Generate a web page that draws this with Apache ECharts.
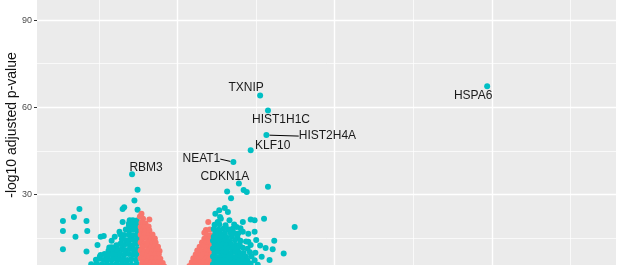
<!DOCTYPE html>
<html><head><meta charset="utf-8">
<script src="https://cdn.jsdelivr.net/npm/echarts@6/dist/echarts.min.js"></script>
<style>
html,body{margin:0;padding:0;background:#fff;overflow:hidden;width:624px;height:265px}
#c{position:absolute;left:0;top:-9px;width:624px;height:295px}
</style>
</head><body><div id="c"></div>
<script>
// log2 fold change vs -log10 adjusted p-value
const yAxisTitle = '-log10 adjusted p-value';
const yMajorStep = 30, yMinorStep = 15;

// labelled genes
const geneNames = ['TXNIP','HIST1H1C','KLF10','CDKN1A','RBM3','HSPA6','HIST2H4A','NEAT1'];
const geneFC    = [1.05, 1.15, 0.93, 0.78, -0.58, 3.94, 1.13, 0.71];
const genePval  = [64.0, 58.9, 45.2, 33.7, 36.9, 67.2, 50.4, 41.1];
const geneHasLine = [false,false,false,false,false,false,true,true];

// significant (teal), negative fold change
const sigDown = [
 [-1.25,25.0],[-1.46,20.8],[-1.32,22.2],[-1.16,20.8],[-1.46,17.4],[-1.15,17.4],[-1.30,15.4],[-0.98,15.4],
 [-0.94,15.7],[-0.84,14.0],[-1.02,12.6],[-1.46,11.1],[-1.16,10.3],[-0.88,10.6],[-0.99,8.6],[-0.87,11.7],
 [-0.82,9.6],[-0.91,8.9],[-0.51,31.6],[-0.55,27.9],[-0.68,25.6],[-0.70,25.0],[-0.51,24.7],[-0.57,21.1],
 [-0.61,21.1],[-0.70,20.5],[-0.74,17.1],[-0.80,15.4],[-0.72,13.0],[-0.84,11.8],[-0.78,9.8],
 [-0.62,20.0],[-0.57,19.8],[-0.52,21.0],[-0.50,19.0],
 [-0.62,19.3],[-0.56,18.6],[-0.53,19.6],
 [-0.66,17.9],[-0.61,17.6],[-0.56,17.9],[-0.51,17.5],
 [-0.73,16.3],[-0.68,16.0],[-0.62,16.2],[-0.57,15.9],[-0.52,16.1],
 [-0.71,14.6],[-0.66,14.2],[-0.61,14.5],[-0.56,14.3],[-0.51,14.6],
 [-0.78,12.5],[-0.73,12.9],[-0.68,12.6],[-0.62,12.8],[-0.57,12.5],[-0.52,12.9],
 [-0.82,11.2],[-0.76,10.9],[-0.71,11.1],[-0.66,10.8],[-0.61,11.2],[-0.56,10.9],[-0.51,11.1],
 [-0.98,9.1],[-0.93,9.5],[-0.88,9.2],[-0.83,9.4],[-0.78,9.1],[-0.73,9.4],[-0.68,9.2],[-0.62,9.5],[-0.57,9.2],[-0.52,9.4],
 [-1.04,7.5],[-0.99,7.8],[-0.94,7.4],[-0.89,7.7],[-0.84,7.5],[-0.79,7.8],[-0.74,7.5],[-0.69,7.7],[-0.64,7.4],[-0.59,7.7],[-0.53,7.5],
 [-1.10,5.9],[-1.03,6.1],[-0.97,5.8],[-0.90,6.0],[-0.84,5.8],[-0.78,6.1],[-0.71,5.9],[-0.65,6.0],[-0.59,5.8],[-0.52,6.0]
];

// not significant (salmon), negative fold change
const nsDown = [
 [-0.46,23.3],[-0.44,21.6],[-0.36,21.3],[-0.48,22.4],
 [-0.46,20.2],[-0.41,20.0],
 [-0.47,18.8],[-0.42,18.6],[-0.37,18.9],
 [-0.46,17.5],[-0.41,17.3],[-0.36,17.6],
 [-0.47,16.1],[-0.42,16.3],[-0.37,16.0],[-0.32,16.2],
 [-0.45,14.7],[-0.39,14.9],[-0.34,14.6],[-0.29,14.8],
 [-0.47,13.4],[-0.42,13.2],[-0.37,13.5],[-0.32,13.3],[-0.28,13.4],
 [-0.45,12.0],[-0.39,12.2],[-0.34,11.9],[-0.29,12.1],[-0.25,12.0],
 [-0.47,10.7],[-0.42,10.5],[-0.37,10.8],[-0.32,10.6],[-0.27,10.7],[-0.23,10.5],
 [-0.45,9.3],[-0.39,9.1],[-0.34,9.4],[-0.29,9.2],[-0.24,9.3],
 [-0.47,8.0],[-0.42,7.8],[-0.37,8.1],[-0.32,7.9],[-0.27,8.0],[-0.22,7.8],
 [-0.45,6.6],[-0.39,6.8],[-0.34,6.5],[-0.29,6.7],[-0.24,6.6],[-0.19,6.4],
 [-0.46,5.3],[-0.41,5.1],[-0.36,5.4],[-0.31,5.2],[-0.26,5.3],[-0.21,5.1],[-0.17,5.2]
];

// not significant (salmon), positive fold change
const nsUp = [
 [0.39,20.5],[0.36,17.7],[0.41,17.9],[0.34,16.8],
 [0.37,16.1],[0.42,15.9],
 [0.34,14.7],[0.39,14.5],
 [0.31,13.4],[0.36,13.2],[0.41,13.5],
 [0.28,12.0],[0.33,12.2],[0.38,11.9],[0.43,12.1],
 [0.25,10.7],[0.31,10.5],[0.36,10.8],[0.41,10.6],
 [0.23,9.3],[0.28,9.1],[0.33,9.4],[0.38,9.2],[0.43,9.3],
 [0.20,8.0],[0.25,7.8],[0.31,8.1],[0.36,7.9],[0.41,8.0],
 [0.18,6.6],[0.23,6.8],[0.28,6.5],[0.33,6.7],[0.38,6.6],[0.43,6.4],
 [0.15,5.3],[0.20,5.1],[0.25,5.4],[0.31,5.2],[0.36,5.3],[0.41,5.1]
];

// significant (teal), positive fold change
const sigUp = [
 [1.15,32.6],[0.63,31.0],[0.84,31.5],[0.88,30.8],[0.68,28.7],[1.49,18.8],[0.60,25.3],[0.64,23.9],
 [0.48,23.3],[0.53,24.5],[0.54,22.2],[0.93,21.3],[0.98,21.1],[1.10,21.6],[0.83,20.5],[0.75,18.8],
 [0.83,17.1],[0.98,17.1],[1.23,14.0],[0.90,13.7],[1.21,11.1],[1.35,9.6],[1.05,12.4],[1.00,14.3],
 [0.66,21.1],[0.70,18.2],[0.77,16.5],[0.58,18.2],[0.54,16.5],[0.51,20.5],[0.55,21.6],
 [0.47,19.5],[0.53,19.7],[0.61,19.4],[0.72,19.6],
 [0.46,18.1],[0.52,17.9],[0.64,18.0],[0.80,18.3],
 [0.48,16.8],[0.60,16.6],[0.67,16.9],[0.72,16.7],[0.90,16.4],
 [0.46,15.4],[0.51,15.2],[0.56,15.5],[0.62,15.3],[0.69,15.5],[0.76,15.2],
 [0.45,14.0],[0.50,14.2],[0.55,13.9],[0.60,14.1],[0.66,13.9],[0.73,14.2],[0.80,14.0],[0.87,13.8],
 [0.47,12.7],[0.52,12.5],[0.57,12.8],[0.62,12.6],[0.68,12.8],[0.74,12.5],[0.79,12.7],[0.93,12.6],
 [0.45,11.4],[0.50,11.2],[0.55,11.5],[0.60,11.3],[0.65,11.5],[0.70,11.2],[0.76,11.4],[0.83,11.6],[0.89,11.3],[1.12,11.5],
 [0.47,10.0],[0.52,10.2],[0.57,9.9],[0.62,10.1],[0.68,9.9],[0.73,10.2],[0.78,10.0],[0.84,9.8],[0.92,10.1],[0.99,9.9],
 [0.45,8.6],[0.50,8.4],[0.55,8.7],[0.60,8.5],[0.65,8.7],[0.70,8.4],[0.75,8.6],[0.80,8.8],[0.87,8.5],[0.94,8.7],[1.07,8.5],
 [0.47,7.3],[0.52,7.1],[0.57,7.4],[0.62,7.2],[0.68,7.4],[0.73,7.1],[0.78,7.3],[0.83,7.5],[0.89,7.2],[0.98,7.3],[1.17,7.4],
 [0.45,5.9],[0.50,6.1],[0.55,5.8],[0.60,6.0],[0.65,5.9],[0.70,6.1],[0.75,5.8],[0.80,6.0],[0.86,5.9],[0.93,6.1],[1.02,5.8]
];

const TEAL = '#00BFC4', SALMON = '#F8766D';
// label placement (pixel offsets of text centre from its point) – styling only
const labelOffsets = {
  TXNIP:[-14,-8], HIST1H1C:[13,9], KLF10:[22,-5], CDKN1A:[-14,-7], RBM3:[14,-7],
  HSPA6:[-14,9], HIST2H4A:[61,1], NEAT1:[-32,-3]
};

const plain = [], lined = [];
geneNames.forEach((g,i)=>{
  const item = {name:g, value:[geneFC[i], genePval[i]]};
  (geneHasLine[i] ? lined : plain).push(item);
});

const chart = echarts.init(document.getElementById('c'), null, {renderer:'canvas'});
const ptBase = {type:'scatter', symbol:'circle', symbolSize:6, silent:true, animation:false};
const labelBase = {
  show:true, position:'inside', formatter:'{b}', color:'#1a1a1a',
  fontFamily:'Liberation Sans, Arial, sans-serif', fontSize:12
};
function layoutFor(list){
  return function(p){ const o = labelOffsets[list[p.dataIndex].name]; return {dx:o[0], dy:o[1], hideOverlap:false}; };
}
const xMin = -1.79, xMax = 5.58;
const gridLine = (w)=>({show:true, showMinLine:false, showMaxLine:false, lineStyle:{color:'#ffffff', width:w}});
const pt = (c)=>({color:c, opacity:1});
chart.setOption({
  animation:false,
  backgroundColor:'#ffffff',
  grid:{left:37, right:8, top:0, bottom:0, show:true, backgroundColor:'#EBEBEB', borderWidth:0},
  xAxis:[
    {type:'value', min:xMin, max:xMax, splitNumber:4, axisLine:{show:false, onZero:false}, axisTick:{show:false}, axisLabel:{show:false}, splitLine:gridLine(1.4)},
    {type:'value', min:xMin, max:xMax, splitNumber:7, axisLine:{show:false, onZero:false}, axisTick:{show:false}, axisLabel:{show:false}, splitLine:gridLine(0.7)}
  ],
  yAxis:[
    {type:'value', min:0, max:100, interval:yMajorStep, position:'left', axisLine:{show:false, onZero:false},
     axisTick:{show:true, length:3, lineStyle:{color:'#333333', width:1}},
     axisLabel:{color:'#4D4D4D', fontSize:9, fontFamily:'Liberation Sans, Arial, sans-serif', margin:5,
       formatter:(v)=> (v % yMajorStep === 0 ? String(v) : '')},
     splitLine:gridLine(1.4)},
    {type:'value', min:0, max:100, interval:yMinorStep, position:'left', axisLine:{show:false, onZero:false}, axisTick:{show:false}, axisLabel:{show:false}, splitLine:gridLine(0.7)}
  ],
  graphic:[{type:'text', x:12, y:134, rotation:Math.PI/2,
    style:{text:yAxisTitle, fill:'#111', fontSize:14, fontFamily:'Liberation Sans, Arial, sans-serif', align:'center', verticalAlign:'middle'}}],
  series:[
    Object.assign({}, ptBase, {name:'sigDown', data:sigDown, itemStyle:pt(TEAL)}),
    Object.assign({}, ptBase, {name:'nsDown', data:nsDown, itemStyle:pt(SALMON)}),
    Object.assign({}, ptBase, {name:'nsUp', data:nsUp, itemStyle:pt(SALMON)}),
    Object.assign({}, ptBase, {name:'sigUp', data:sigUp, itemStyle:pt(TEAL)}),
    Object.assign({}, ptBase, {name:'labelled', data:plain, itemStyle:pt(TEAL), label:labelBase, labelLayout:layoutFor(plain)}),
    Object.assign({}, ptBase, {name:'labelledLine', data:lined, itemStyle:pt(TEAL), label:labelBase, labelLayout:layoutFor(lined),
      labelLine:{show:true, smooth:false, lineStyle:{color:'#000', width:1}}})
  ]
});
</script>
</body></html>
